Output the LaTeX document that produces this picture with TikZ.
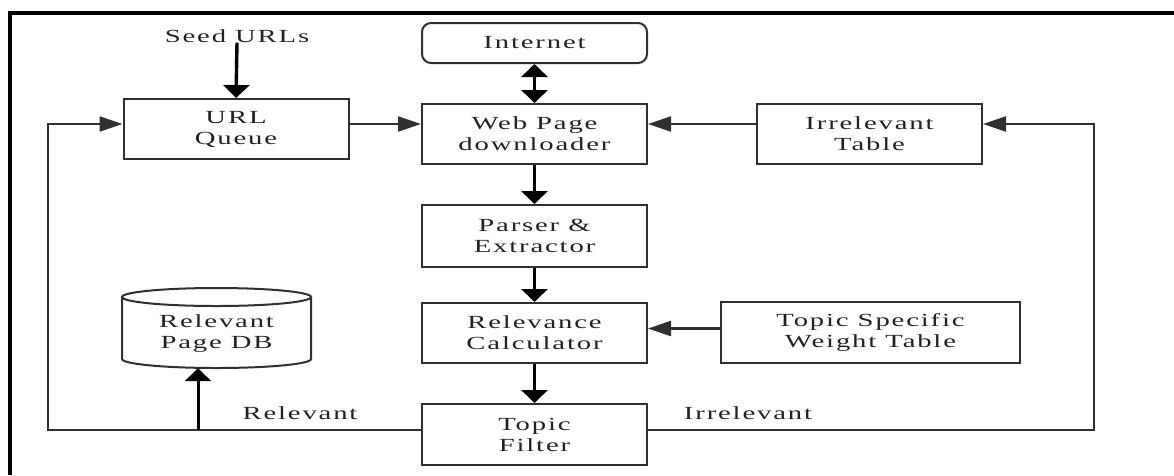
\documentclass[tikz,border=0pt]{standalone}
\usepackage{fontspec}
\setmainfont{Liberation Serif}[FakeStretch=1.55, LetterSpace=10]
\usetikzlibrary{arrows.meta}
\definecolor{ink}{HTML}{222222}
\definecolor{rule}{HTML}{303030}
\begin{document}
\begin{tikzpicture}[x=1pt,y=-1pt,
  font=\fontsize{18.5}{21}\selectfont,
  box/.style={draw=rule, line width=2pt, minimum width=225pt, minimum height=60pt,
    align=center, inner sep=0pt, text=ink},
  link/.style={draw=rule, line width=2.2pt},
  vtip/.tip={Triangle[length=13pt,width=26pt]},
  htip/.tip={Triangle[length=23pt,width=15pt]},
  hhead/.style={-htip},
  vlink/.style={draw=black, line width=3.4pt, -vtip},
  lbl/.style={text=ink, inner sep=0pt}]
\useasboundingbox (0,0) rectangle (1174,475);
\fill[white] (0,0) rectangle (1174,475);
% frame
\draw[line width=3.6pt] (10,475) -- (10,13) -- (1174,13);

% blocks
\node[lbl] (seed) at (237,36) {Seed URLs};
\node[box] (urlq) at (236,129) {URL\\Queue};
\node[box, minimum height=40pt, rounded corners=9pt] (inet) at (534.5,43) {\raisebox{-3pt}{Internet}};
\node[box] (web) at (534.5,134) {Web Page\\downloader};
\node[box] (irr) at (869.5,134) {Irrelevant\\Table};
\node[box, minimum height=62pt] (parser) at (534.5,236) {Parser \&\\Extractor};
\node[box] (relcalc) at (534.5,333) {Relevance\\Calculator};
\node[box, minimum height=61pt] (filter) at (534.5,434.5) {Topic\\Filter};
\node[box, minimum width=299pt, minimum height=61pt] (tswt) at (870.5,332.5) {Topic Specific\\Weight Table};

% database cylinder
\node[minimum width=189pt, minimum height=68pt, inner sep=0pt, align=center, text=ink] (db) at (216.5,334) {Relevant\\Page DB};
\draw[draw=rule, line width=2pt] (216.5,297) ellipse [x radius=94.5pt, y radius=9pt];
\draw[draw=rule, line width=2pt] (122,297) -- (122,359)
  arc[start angle=180, end angle=360, x radius=94.5pt, y radius=9pt] -- (311,297);

% edge labels
\node[lbl] (rel) at (300,413) {Relevant};
\node[lbl] (irrl) at (748,413) {Irrelevant};

% loop corners and branch point
\coordinate (lc) at (48,124);
\coordinate (rc) at (1094,124);
\coordinate (rj) at (198,430);

% connectors
\draw[vlink] (seed.south) -- (urlq.north);
\draw[link, hhead] ([yshift=5pt]urlq.east) -- ([yshift=5pt]urlq.east -| web.west);
\draw[link, hhead] ([yshift=10pt]irr.west) -- ([yshift=10pt]web.east);
\draw[draw=black, line width=3.4pt, vtip-vtip] (inet.south) -- (web.north);
\draw[vlink] (web.south) -- (parser.north);
\draw[vlink] (parser.south) -- (relcalc.north);
\draw[vlink] (relcalc.south) -- (filter.north);
\draw[link, hhead] ([yshift=4pt]tswt.west) -- ([yshift=4pt]tswt.west -| relcalc.east);
\draw[link, hhead] ([yshift=4.5pt]filter.west) -| (lc) -- (lc -| urlq.west);
\draw[link, hhead] ([yshift=4.5pt]filter.east) -| (rc) -- (rc -| irr.east);
\draw[vlink, line width=3pt] (rj) -- (rj |- db.south);
\end{tikzpicture}
\end{document}
